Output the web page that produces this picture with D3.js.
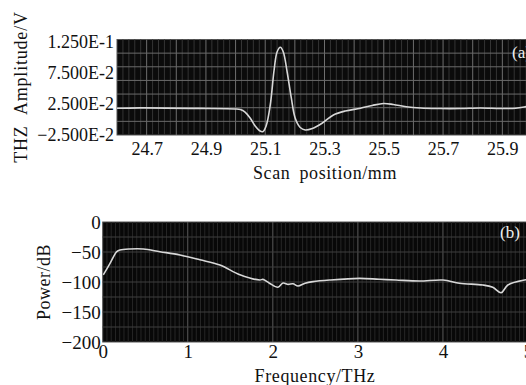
<!DOCTYPE html>
<html>
<head>
<meta charset="utf-8">
<script src="https://cdn.jsdelivr.net/npm/d3@7"></script>
<style>
  body { margin: 0; background: #fff; }
  text { font-family: 'Liberation Serif', 'Times New Roman', serif; fill: #111; }
</style>
</head>
<body>
<div id="chart"></div>
<script>
// panel (a) time-domain trace
const scanPos = [24.6, 24.678, 24.88, 24.999, 25.016, 25.032, 25.049, 25.066, 25.08, 25.092,
  25.103, 25.117, 25.13, 25.14, 25.151, 25.161, 25.174, 25.188, 25.201, 25.218, 25.235,
  25.259, 25.293, 25.33, 25.37, 25.421, 25.461, 25.499, 25.532, 25.576, 25.624, 25.691,
  25.759, 25.826, 25.894, 25.945, 25.982, 26.0]
const amplitude = [0.0181, 0.0188, 0.018, 0.017, 0.016, 0.012, 0.0024, -0.0105, -0.0177, -0.0197,
  -0.0105, 0.0234, 0.0798, 0.1089, 0.1165, 0.1089, 0.0766, 0.0347, 0.0024, -0.0129, -0.0169,
  -0.0145, -0.0056, 0.0073, 0.0137, 0.0181, 0.0226, 0.0258, 0.0242, 0.0206, 0.0185, 0.0177,
  0.0177, 0.0185, 0.0177, 0.0181, 0.021, 0.0226]
const scanTicks = [24.7, 24.9, 25.1, 25.3, 25.5, 25.7, 25.9]
const ampTicks = [-0.025, 0.025, 0.075, 0.125]

// panel (b) spectrum
const freq = [0.007, 0.086, 0.165, 0.203, 0.32, 0.477, 0.673, 0.908, 1.143, 1.378, 1.613, 1.848,
  1.884, 1.96, 2.06, 2.12, 2.18, 2.237, 2.296, 2.38, 2.472, 2.667, 3.02, 3.25, 3.447, 3.725,
  4.0, 4.195, 4.469, 4.586, 4.684, 4.763, 4.959, 5.0]
const power = [-88, -69, -49.5, -46.7, -45, -45, -49.5, -55, -63, -71.7, -88, -96.7,
  -95.6, -102, -108.8, -101.7, -104, -103, -106.7, -102, -99.4, -96.7, -93.9, -95.5, -96.7, -98.3,
  -96.7, -102, -105, -108.8, -117.8, -105, -96.7, -96]
const freqTicks = [0, 1, 2, 3, 4, 5]
const powerTicks = [0, -50, -100, -150, -200]

const W = 526
const H = 385

const svg = d3.select('#chart')
  .append('svg')
  .attr('width', W)
  .attr('height', H)

// ---------- panel (a) ----------
const a = { left: 117, right: 532, top: 39.5, bottom: 135 }

const xA = d3.scaleLinear().domain([24.6, 26.0]).range([a.left, a.right])
const yA = d3.scaleLinear().domain([-0.025, 0.129]).range([a.bottom, a.top])

const gA = svg.append('g')

gA.append('rect')
  .attr('x', a.left)
  .attr('y', a.top)
  .attr('width', a.right - a.left)
  .attr('height', a.bottom - a.top)
  .attr('fill', '#0b0b0b')
  .attr('stroke', '#555')

// minor verticals every 0.02, major every 0.1
d3.range(1, 70).forEach(i => {
  const v = 24.6 + i * 0.02
  const major = i % 5 === 0
  gA.append('line')
    .attr('x1', xA(v)).attr('x2', xA(v))
    .attr('y1', a.top).attr('y2', a.bottom)
    .attr('stroke', major ? '#6e6e6e' : '#343434')
    .attr('stroke-width', 1)
})

// horizontals: 7 equal divisions
d3.range(1, 7).forEach(i => {
  const v = yA.domain()[0] + i * (yA.domain()[1] - yA.domain()[0]) / 7
  gA.append('line')
    .attr('x1', a.left).attr('x2', a.right)
    .attr('y1', yA(v)).attr('y2', yA(v))
    .attr('stroke', '#6a6a6a')
})

gA.append('clipPath').attr('id', 'clipA')
  .append('rect')
  .attr('x', a.left).attr('y', a.top)
  .attr('width', a.right - a.left).attr('height', a.bottom - a.top)

const lineA = d3.line()
  .x(d => xA(d[0]))
  .y(d => yA(d[1]))
  .curve(d3.curveCatmullRom)

gA.append('path')
  .datum(scanPos.map((d, i) => [d, amplitude[i]]))
  .attr('clip-path', 'url(#clipA)')
  .attr('d', lineA)
  .attr('fill', 'none')
  .attr('stroke', '#d8d8d8')
  .attr('stroke-width', 1.6)

const fmtE = v => d3.format('.3e')(v).toUpperCase()

gA.append('g')
  .attr('transform', 'translate(' + a.left + ',0)')
  .call(d3.axisLeft(yA).tickValues(ampTicks).tickSize(0).tickPadding(3).tickFormat(fmtE))
  .call(g => g.select('.domain').remove())
  .selectAll('text')
  .style('font-family', "'Liberation Serif', serif")
  .style('font-size', '18px')
  .attr('fill', '#111')

gA.append('g')
  .attr('transform', 'translate(0,' + a.bottom + ')')
  .call(d3.axisBottom(xA).tickValues(scanTicks).tickSize(0).tickPadding(7).tickFormat(d3.format('.1f')))
  .call(g => g.select('.domain').remove())
  .selectAll('text')
  .style('font-family', "'Liberation Serif', serif")
  .style('font-size', '18px')
  .attr('fill', '#111')

gA.append('text')
  .attr('x', 325)
  .attr('y', 179)
  .attr('text-anchor', 'middle')
  .style('font-size', '18px')
  .style('word-spacing', '4px')
  .style('letter-spacing', '0.6px')
  .text('Scan position/mm')

gA.append('text')
  .attr('transform', 'translate(27,87) rotate(-90)')
  .attr('text-anchor', 'middle')
  .style('font-size', '18px')
  .style('word-spacing', '6px')
  .style('letter-spacing', '0.8px')
  .text('THZ Amplitude/V')

gA.append('text')
  .attr('x', 512)
  .attr('y', 58)
  .style('font-size', '17px')
  .style('fill', '#eee')
  .text('(a)')

// ---------- panel (b) ----------
const b = { left: 102.7, right: 528, top: 222, bottom: 342 }

const xB = d3.scaleLinear().domain([0, 5]).range([b.left, b.right])
const yB = d3.scaleLinear().domain([-200, 0]).range([b.bottom, b.top])

const gB = svg.append('g')

gB.append('rect')
  .attr('x', b.left)
  .attr('y', b.top)
  .attr('width', b.right - b.left)
  .attr('height', b.bottom - b.top)
  .attr('fill', '#080808')
  .attr('stroke', '#555')

// minor verticals every 0.05 THz, major at integers
d3.range(1, 100).forEach(i => {
  const v = i * 0.05
  const major = i % 20 === 0
  gB.append('line')
    .attr('x1', xB(v)).attr('x2', xB(v))
    .attr('y1', b.top).attr('y2', b.bottom)
    .attr('stroke', major ? '#5a5a5a' : '#262626')
})

d3.range(-175, 0, 25).forEach(v => {
  gB.append('line')
    .attr('x1', b.left).attr('x2', b.right)
    .attr('y1', yB(v)).attr('y2', yB(v))
    .attr('stroke', '#3e3e3e')
})

gB.append('clipPath').attr('id', 'clipB')
  .append('rect')
  .attr('x', b.left).attr('y', b.top)
  .attr('width', b.right - b.left).attr('height', b.bottom - b.top)

const lineB = d3.line()
  .x(d => xB(d[0]))
  .y(d => yB(d[1]))
  .curve(d3.curveCatmullRom)

gB.append('path')
  .datum(freq.map((d, i) => [d, power[i]]))
  .attr('clip-path', 'url(#clipB)')
  .attr('d', lineB)
  .attr('fill', 'none')
  .attr('stroke', '#d8d8d8')
  .attr('stroke-width', 1.6)

gB.append('g')
  .attr('transform', 'translate(' + b.left + ',0)')
  .call(d3.axisLeft(yB).tickValues(powerTicks).tickSize(0).tickPadding(2).tickFormat(d3.format('d')))
  .call(g => g.select('.domain').remove())
  .selectAll('text')
  .style('font-family', "'Liberation Serif', serif")
  .style('font-size', '19px')
  .attr('fill', '#111')

gB.append('g')
  .attr('transform', 'translate(0,' + b.bottom + ')')
  .call(d3.axisBottom(xB).tickValues(freqTicks).tickSize(0).tickPadding(2).tickFormat(d3.format('d')))
  .call(g => g.select('.domain').remove())
  .selectAll('text')
  .style('font-family', "'Liberation Serif', serif")
  .style('font-size', '19px')
  .attr('fill', '#111')

gB.append('text')
  .attr('x', 315)
  .attr('y', 382)
  .attr('text-anchor', 'middle')
  .style('font-size', '18px')
  .style('letter-spacing', '0.6px')
  .text('Frequency/THz')

gB.append('text')
  .attr('transform', 'translate(50,282) rotate(-90)')
  .attr('text-anchor', 'middle')
  .style('font-size', '18px')
  .style('letter-spacing', '0.5px')
  .text('Power/dB')

gB.append('text')
  .attr('x', 500)
  .attr('y', 238)
  .style('font-size', '17px')
  .style('fill', '#eee')
  .text('(b)')
</script>
</body>
</html>
